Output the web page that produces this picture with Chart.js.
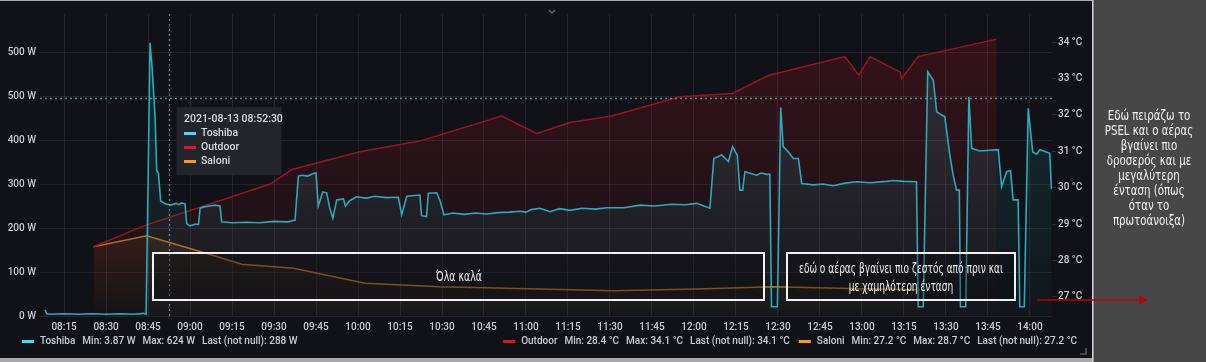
<!DOCTYPE html>
<html>
<head>
<meta charset="utf-8">
<script src="https://cdn.jsdelivr.net/npm/chart.js@4.4.0/dist/chart.umd.min.js"></script>
<style>
  html, body { margin: 0; padding: 0; background: #111217; overflow: hidden; }
  canvas { display: block; }
</style>
</head>
<body>
<canvas id="chart" width="1206" height="362"></canvas>
<script>
// ---- data (minutes since midnight) ----
const xTickLabels = ['08:15','08:30','08:45','09:00','09:15','09:30','09:45','10:00','10:15','10:30','10:45','11:00',
                     '11:15','11:30','11:45','12:00','12:15','12:30','12:45','13:00','13:15','13:30','13:45','14:00'];
const wattTicks = [0, 100, 200, 300, 400, 500, 600];
const wattTickLabels = ['0 W', '100 W', '200 W', '300 W', '400 W', '500 W', '500 W'];
const celsiusTicks = [27, 28, 29, 30, 31, 32, 33, 34];
const celsiusTickLabels = ['27 °C', '28 °C', '29 °C', '30 °C', '31 °C', '32 °C', '33 °C', '34 °C'];

const toshibaMinutes = [488.2, 488.8, 490, 495, 500, 505, 510, 515, 520, 523.5, 524.3, 525.0, 525.7, 526.5, 527.5, 528.1, 528.7, 529.5,
  531, 533, 535, 536, 537, 538.2, 538.8, 540, 542, 543, 543.6, 545, 547, 549, 550.7, 551.3, 555, 560, 565, 570, 575, 577.5,
  578.7, 580, 582, 584, 585, 585.8, 587.4, 588.8, 589.8, 591, 592.4, 594.8, 595.5, 597, 599.5, 603, 606, 610, 614.4, 615.6,
  617.4, 622.1, 622.7, 624.5, 625.1, 628.1, 629.3, 630.7, 634, 638, 642, 646, 650, 654, 657.9, 660, 662, 665, 668.6, 672,
  675.7, 680, 685, 688.8, 695, 700.7, 706, 712, 717, 721, 725.7, 727.1, 729.9, 732.3, 733.8, 735.5, 736.4, 737.4, 738.2,
  742.4, 744, 746, 747.1, 747.7, 749.8, 751, 751.9, 753.7, 755.5, 757.3, 758.5, 762.6, 766, 769.8, 774, 778.1, 783, 788.8,
  791.2, 795, 799.5, 800.1, 801.9, 803.5, 805.5, 806.7, 809.6, 811.4, 812.6, 813.8, 814.8, 815.2, 817.1, 818.2, 819.2,
  822.1, 828.7, 829.9, 831.7, 833.1, 834, 835.8, 836.4, 838, 839.4, 841, 842.4, 843.6, 847.1, 847.7];
const toshibaWatts = [14, 5, 4, 5, 3.9, 5, 4, 5, 4, 6, 4, 300, 621, 560, 453, 330, 325, 262,
  255, 252, 256, 253, 257, 255, 210, 205, 209, 208, 245, 248, 250, 252, 250, 214, 212, 213, 212, 215, 214, 218,
  318, 320, 318, 324, 325, 250, 282, 280, 248, 222, 264, 266, 250, 262, 271, 268, 272, 269, 270, 230,
  272, 275, 228, 226, 279, 280, 262, 230, 234, 231, 234, 232, 235, 236, 238, 236, 242, 245, 237, 244,
  240, 245, 243, 246, 246, 252, 250, 254, 253, 256, 245, 358, 366, 351, 385, 365, 286, 286, 328,
  320, 325, 322, 322, 21, 21, 474, 385, 373, 358, 358, 301, 298, 300, 296, 302, 305, 303, 306,
  308, 306, 305, 21, 21, 555, 536, 464, 453, 366, 320, 286, 286, 21, 21, 498, 381,
  375, 378, 294, 328, 330, 264, 264, 21, 21, 472, 373, 368, 378, 370, 288];

const outdoorMinutes = [505.5, 524.5, 568.6, 576.4, 600.7, 622.1, 651.3, 663.8, 675.7, 690.6, 715, 733.8, 746.5,
  773.9, 778.9, 782.9, 793.6, 794.2, 800.1, 828.1];
const outdoorCelsius = [28.38, 28.98, 30.10, 30.50, 30.99, 31.28, 31.97, 31.49, 31.79, 31.97, 32.50, 32.59, 33.08,
  33.60, 33.09, 33.60, 33.18, 33.00, 33.60, 34.08];

const saloniMinutes = [505.5, 524.5, 544.8, 558.5, 577, 602.5, 629.3, 665, 691.2, 721, 748.3, 784, 800.7];
const saloniCelsius = [28.38, 28.68, 28.22, 27.90, 27.79, 27.38, 27.28, 27.22, 27.17, 27.22, 27.28, 27.22, 27.2];

const legendLeft = [['Toshiba', 'Min: 3.87 W', 'Max: 624 W', 'Last (not null): 288 W']];
const legendRight = [['Outdoor', 'Min: 28.4 °C', 'Max: 34.1 °C', 'Last (not null): 34.1 °C'],
                     ['Saloni', 'Min: 27.2 °C', 'Max: 28.7 °C', 'Last (not null): 27.2 °C']];
const hoverTime = '2021-08-13 08:52:30';
const noteAllGood = 'Όλα καλά';
const noteWarmer = ['εδώ ο αέρας βγαίνει πιο ζεστός από πριν και', 'με χαμηλότερη ένταση'];
const sideNote = ['Εδώ πειράζω το', 'PSEL και ο αέρας', 'βγαίνει πιο', 'δροσερός και με', 'μεγαλύτερη',
                  'ένταση (όπως', 'όταν το', 'πρωτοάνοιξα)'];

// ---- colours ----
const cToshiba = '#2aaabb', cOutdoor = '#9a1422', cSaloni = '#b8731a';
const keyColors = ['#3fdcf2', '#e0141f', '#ff9a10'];
const textColor = '#c9cad3';
const noteFont = '"DejaVu Sans", "Noto Sans", sans-serif';

const minuteOf = s => { const [h, m] = s.split(':').map(Number); return h * 60 + m; };
const pts = (xs, ys) => xs.map((x, i) => ({ x: x, y: ys[i] }));

function fade(rgb, stops) {
  return c => {
    const area = c.chart.chartArea;
    if (!area) return 'rgba(0,0,0,0)';
    const g = c.chart.ctx.createLinearGradient(0, area.top, 0, area.bottom);
    stops.forEach(s => g.addColorStop(s[0], 'rgba(' + rgb + ',' + s[1] + ')'));
    return g;
  };
}

// the hand-written notes use a narrow face, squeeze the text horizontally
function narrowText(ctx, text, x, y, sx) {
  ctx.save();
  ctx.translate(x, y);
  ctx.scale(sx, 1);
  ctx.fillText(text, 0, 0);
  ctx.restore();
}

const overlay = {
  id: 'overlay',
  afterDatasetsDraw(chart) {
    const ctx = chart.ctx, a = chart.chartArea;
    const xs = chart.scales.x, yw = chart.scales.yW;
    ctx.save();
    // crosshair
    ctx.strokeStyle = 'rgba(120,160,170,0.8)';
    ctx.lineWidth = 1.3;
    ctx.setLineDash([2, 3]);
    const cx = Math.round(xs.getPixelForValue(minuteOf('08:52') + 0.5)) + 0.5;
    ctx.beginPath(); ctx.moveTo(cx, a.top); ctx.lineTo(cx, a.bottom); ctx.stroke();
    const cy = Math.round(yw.getPixelForValue(495)) + 0.5;
    ctx.beginPath(); ctx.moveTo(a.left, cy); ctx.lineTo(a.right, cy); ctx.stroke();
    ctx.setLineDash([]);

    // note boxes
    ctx.fillStyle = 'rgba(8,8,10,0.3)';
    ctx.strokeStyle = '#f2f2f2';
    ctx.lineWidth = 2;
    [[153, 253, 611, 47], [787, 253, 228, 47]].forEach(b => {
      ctx.fillRect(b[0], b[1], b[2], b[3]);
      ctx.strokeRect(b[0], b[1], b[2], b[3]);
    });
    ctx.fillStyle = '#eeeeee';
    ctx.textAlign = 'center';
    ctx.textBaseline = 'middle';
    ctx.font = '14px ' + noteFont;
    narrowText(ctx, noteAllGood, 459, 277, 0.67);
    ctx.font = '13.5px ' + noteFont;
    narrowText(ctx, noteWarmer[0], 901, 269, 0.67);
    narrowText(ctx, noteWarmer[1], 901, 287, 0.67);

    // tooltip
    ctx.fillStyle = '#22252b';
    ctx.fillRect(cx + 7, 107, 105, 68);
    ctx.textAlign = 'left';
    ctx.fillStyle = '#d8d9de';
    ctx.font = '500 10.5px Roboto, sans-serif';
    ctx.fillText(hoverTime, 184, 119);
    ['Toshiba', 'Outdoor', 'Saloni'].forEach((n, i) => {
      const y = 133.5 + i * 14;
      ctx.fillStyle = keyColors[i];
      ctx.fillRect(184, y - 1.5, 12, 3);
      ctx.fillStyle = '#d8d9de';
      ctx.fillText(n, 201, y);
    });
    ctx.restore();
  },
  afterDraw(chart) {
    const ctx = chart.ctx;
    ctx.save();
    ctx.textBaseline = 'middle';
    ctx.textAlign = 'left';
    ctx.font = '500 10px Roboto, sans-serif';
    // legend row
    const drawItem = (parts, x, color) => {
      ctx.fillStyle = color;
      ctx.fillRect(x, 340, 12, 3);
      x += 18;
      ctx.fillStyle = textColor;
      parts.forEach(p => { ctx.fillText(p, x, 341.5); x += ctx.measureText(p).width + 7; });
      return x;
    };
    const width = parts => 18 + parts.reduce((s, p) => s + ctx.measureText(p).width + 7, 0);
    drawItem(legendLeft[0], 22, keyColors[0]);
    let rx = 1075 - width(legendRight[0]) - width(legendRight[1]) + 7;
    rx = drawItem(legendRight[0], rx, keyColors[1]);
    drawItem(legendRight[1], rx + 2, keyColors[2]);

    // little chevron at the top and resize corner
    ctx.strokeStyle = '#6e7079';
    ctx.lineWidth = 1.2;
    ctx.beginPath(); ctx.moveTo(549, 10); ctx.lineTo(552, 13); ctx.lineTo(555, 10); ctx.stroke();
    ctx.beginPath(); ctx.moveTo(1080, 354); ctx.lineTo(1086, 354); ctx.lineTo(1086, 348); ctx.stroke();

    // frame lines
    ctx.fillStyle = '#a9a9a9';
    ctx.fillRect(0, 0, 1092, 1);
    ctx.fillRect(0, 358, 1092, 4);

    // side panel
    ctx.fillStyle = '#474747';
    ctx.fillRect(1092, 0, 114, 362);
    ctx.fillStyle = '#d6d6d6';
    ctx.fillRect(1092, 0, 1.5, 362);
    ctx.fillStyle = '#f2f2f2';
    ctx.textAlign = 'center';
    ctx.font = '14px ' + noteFont;
    sideNote.forEach((l, i) => narrowText(ctx, l, 1149, 116 + i * 15, 0.73));

    // arrow into the panel
    ctx.strokeStyle = '#c00000';
    ctx.fillStyle = '#c00000';
    ctx.lineWidth = 1.3;
    ctx.beginPath(); ctx.moveTo(1037, 300); ctx.lineTo(1140, 300); ctx.stroke();
    ctx.beginPath(); ctx.moveTo(1148, 300); ctx.lineTo(1139, 296); ctx.lineTo(1139, 304); ctx.closePath(); ctx.fill();
    ctx.restore();
  }
};

const gridColor = 'rgba(255,255,255,0.08)';

new Chart(document.getElementById('chart'), {
  type: 'line',
  data: {
    datasets: [
      {
        label: 'Toshiba', data: pts(toshibaMinutes, toshibaWatts), yAxisID: 'yW',
        borderColor: cToshiba, borderWidth: 1.6, pointRadius: 0, tension: 0, fill: 'start',
        backgroundColor: fade('40,170,185', [[0, 0.2], [0.5, 0.12], [1, 0.03]]), order: 0
      },
      {
        label: 'Outdoor', data: pts(outdoorMinutes, outdoorCelsius), yAxisID: 'yC',
        borderColor: cOutdoor, borderWidth: 1.5, pointRadius: 0, tension: 0, fill: 'start',
        backgroundColor: fade('170,20,35', [[0, 0.26], [0.5, 0.15], [1, 0.02]]), order: 1
      },
      {
        label: 'Saloni', data: pts(saloniMinutes, saloniCelsius), yAxisID: 'yC',
        borderColor: cSaloni, borderWidth: 1.5, pointRadius: 0, tension: 0, fill: 'start',
        backgroundColor: fade('200,110,20', [[0.7, 0.14], [1, 0.01]]), order: 2
      }
    ]
  },
  options: {
    responsive: false,
    animation: false,
    events: [],
    layout: { padding: { left: 0, top: 14, right: 114, bottom: 26 } },
    plugins: { legend: { display: false }, tooltip: { enabled: false } },
    scales: {
      x: {
        type: 'linear', min: 486.4, max: 847.9,
        afterBuildTicks: axis => { axis.ticks = xTickLabels.map(l => ({ value: minuteOf(l) })); },
        afterFit: axis => { axis.height = 20; },
        ticks: { callback: (v, i) => xTickLabels[i], autoSkip: false, maxRotation: 0, padding: 5,
                 color: textColor, font: { family: 'Roboto', size: 10, weight: '500' } },
        grid: { color: gridColor, drawTicks: false },
        border: { display: false }
      },
      yW: {
        position: 'left', min: 0, max: 686.4,
        afterBuildTicks: axis => { axis.ticks = wattTicks.map(v => ({ value: v })); },
        afterFit: axis => { axis.width = 40; },
        ticks: { callback: (v, i) => wattTickLabels[i], padding: 4,
                 color: textColor, font: { family: 'Roboto', size: 10, weight: '500' } },
        grid: { color: gridColor, drawTicks: false },
        border: { display: false }
      },
      yC: {
        position: 'right', min: 26.478, max: 34.77,
        afterBuildTicks: axis => { axis.ticks = celsiusTicks.map(v => ({ value: v })); },
        afterFit: axis => { axis.width = 40; },
        ticks: { callback: (v, i) => celsiusTickLabels[i], padding: 2,
                 color: textColor, font: { family: 'Roboto', size: 10, weight: '500' } },
        grid: { drawOnChartArea: false, drawTicks: true, tickLength: 4, color: 'rgba(255,255,255,0.12)' },
        border: { display: false }
      }
    }
  },
  plugins: [overlay]
});
</script>
</body>
</html>
